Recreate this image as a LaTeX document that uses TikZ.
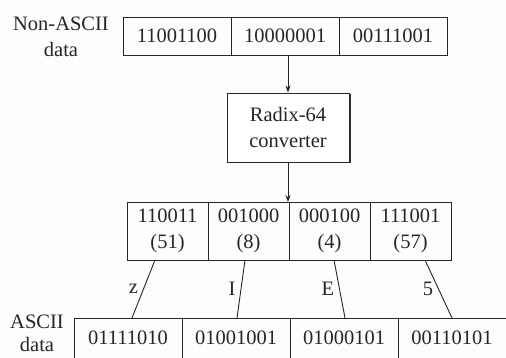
\documentclass[tikz,border=0pt]{standalone}
\usepackage{fontspec}
\setmainfont{Liberation Serif}
\usepackage{xcolor}
\usepackage{tikz}
\usetikzlibrary{arrows.meta,positioning,shadows}
\definecolor{InkGray}{HTML}{262626}
\definecolor{PaperWhite}{HTML}{FDFDFB}

\begin{document}
\begin{tikzpicture}[x=1pt, y=-1pt, >={Stealth[length=7pt,width=5pt]}, line width=0.9pt, draw=InkGray,
  font=\fontsize{20.5}{26}\selectfont, text=InkGray,
  bytecell/.style={draw=InkGray, rectangle, minimum width=108pt, minimum height=38pt, inner sep=0pt, outer sep=0pt},
  sixcell/.style={draw=InkGray, rectangle, minimum width=81pt, minimum height=58pt, inner sep=0pt, outer sep=0pt, align=center},
  convbox/.style={draw=InkGray, fill=white, minimum width=122pt, minimum height=69pt, align=center, inner sep=0pt,
    drop shadow={shadow xshift=1.5pt, shadow yshift=-1.5pt, fill=black, opacity=0.8}},
  tag/.style={align=center, inner sep=0pt},
  lbl/.style={left, inner sep=0pt, xshift=-5pt}]

\fill[PaperWhite] (0,0) rectangle (506,358);
\useasboundingbox (0,0) rectangle (506,358);

% non-ASCII input
\node[tag] (intag) at (61,37) {Non-ASCII\\data};
\node[bytecell] (t1) at (177,36) {11001100};
\node[bytecell] (t2) at (285,36) {10000001};
\node[bytecell] (t3) at (393,36) {00111001};

\node[convbox] (conv) at (288,127.5) {Radix-64\\converter};

% 6-bit groups
\node[sixcell] (m1) at (167.5,231) {110011\\(51)};
\node[sixcell] (m2) at (248.5,231) {001000\\(8)};
\node[sixcell] (m3) at (329.5,231) {000100\\(4)};
\node[sixcell] (m4) at (410.5,231) {111001\\(57)};

% ASCII output
\node[tag] (outtag) at (37,333) {ASCII\\[-3pt]data};
\node[bytecell, minimum height=40pt] (b1) at (128,338) {01111010};
\node[bytecell, minimum height=40pt] (b2) at (236,338) {01001001};
\node[bytecell, minimum height=40pt] (b3) at (344,338) {01000101};
\node[bytecell, minimum height=40pt] (b4) at (452,338) {00110101};

\draw[->] (conv.north |- t2.south) -- (conv.north);
\draw[->] (conv.south) -- (conv.south |- m2.north);

\foreach \i/\a/\b/\l in {1/-12.5/4/z, 2/-3.5/1/I, 3/4.5/1/E, 4/14.5/0/5}{
  \draw ([xshift=\a pt]m\i.south) -- node[lbl]{\l} ([xshift=\b pt]b\i.north);}
\end{tikzpicture}
\end{document}
